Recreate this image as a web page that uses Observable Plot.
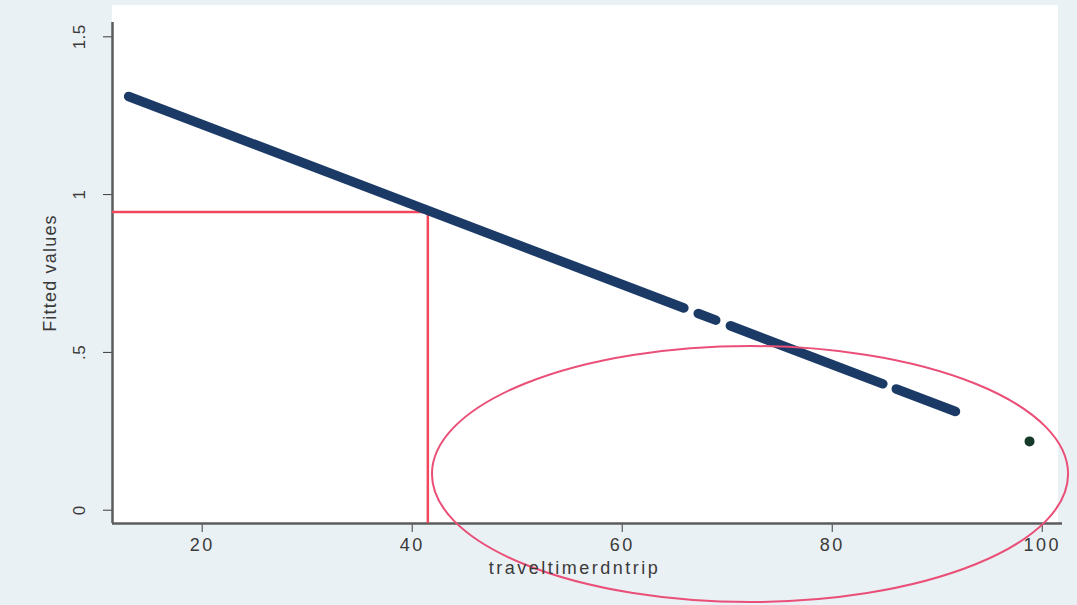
<!DOCTYPE html>
<html><head><meta charset="utf-8">
<script src="https://cdn.jsdelivr.net/npm/d3@7"></script>
<script src="https://cdn.jsdelivr.net/npm/@observablehq/plot@0.6"></script>
<style>
html,body{margin:0;padding:0;background:#eaf1f4;}
#chart svg text{font-size:18px;font-family:"Liberation Sans",Arial,sans-serif;fill:#3a3a3a;}
</style>
</head><body><div id="chart"></div>
<script>
// Fitted values drawn as runs of markers (start/end of each run)
const segStartX = [13.0, 67.24, 70.30, 86.10];
const segEndX   = [65.87, 68.91, 84.82, 91.74];
const segStartY = [1.311, 0.6233, 0.5845, 0.3842];
const segEndY   = [0.6407, 0.6021, 0.4004, 0.3127];
// isolated fitted value
const outlierX = [98.79];
const outlierY = [0.218];
// red reference lines
const refX = [41.49];
const refY = [0.945];
// red ellipse annotation (centre and radii in data units)
const ellipseCenter = [72.22, 0.1131];
const ellipseRadii = [30.29, 0.4056];
// axes
const xTicks = [20, 40, 60, 80, 100];
const xTickLabels = ["20", "40", "60", "80", "100"];
const yTicks = [0, 0.5, 1, 1.5];
const yTickLabels = ["0", ".5", "1", "1.5"];
const xLabel = "traveltimerdntrip";
const yLabel = "Fitted values";
const xDomain = [11.46, 101.93];
const yDomain = [-0.0421, 1.5453];

const segs = segStartX.map((x, i) => ({x1: x, y1: segStartY[i], x2: segEndX[i], y2: segEndY[i]}));
const outliers = outlierX.map((x, i) => ({x, y: outlierY[i]}));

function background(index, scales, values, dims) {
  return d3.create("svg:rect")
    .attr("x", dims.marginLeft)
    .attr("y", 5)
    .attr("width", dims.width - dims.marginLeft - dims.marginRight - 4)
    .attr("height", dims.height - dims.marginBottom - 5)
    .attr("fill", "white").node();
}
function ellipse(index, scales) {
  const cx = scales.x(ellipseCenter[0]), cy = scales.y(ellipseCenter[1]);
  const rx = scales.x(ellipseCenter[0] + ellipseRadii[0]) - cx;
  const ry = cy - scales.y(ellipseCenter[1] + ellipseRadii[1]);
  return d3.create("svg:ellipse")
    .attr("cx", cx).attr("cy", cy).attr("rx", rx).attr("ry", ry)
    .attr("fill", "none").attr("stroke", "#ea4f78").attr("stroke-width", 2).node();
}

const plot = Plot.plot({
  width: 1077, height: 605,
  marginLeft: 112, marginRight: 15, marginTop: 22, marginBottom: 82,
  style: {background: "transparent", color: "#3a3a3a", fontSize: "18px", fontFamily: "Liberation Sans, Arial, sans-serif"},
  x: {domain: xDomain, ticks: xTicks, tickSize: 9, tickPadding: 6,
      tickFormat: d => xTickLabels[xTicks.indexOf(d)], label: null},
  y: {domain: yDomain, ticks: yTicks, tickSize: 9, tickFormat: () => "", label: null},
  marks: [
    background,
    Plot.ruleX([xDomain[0]], {stroke: "#5c5c5c", strokeWidth: 2.5}),
    Plot.ruleY([yDomain[0]], {stroke: "#5c5c5c", strokeWidth: 2.5}),
    Plot.ruleY(refY, {x1: xDomain[0], x2: refX[0], stroke: "#f2475c", strokeWidth: 2.5}),
    Plot.ruleX(refX, {y1: yDomain[0], y2: refY[0], stroke: "#f2475c", strokeWidth: 2.5}),
    Plot.link(segs, {x1: "x1", y1: "y1", x2: "x2", y2: "y2", stroke: "#1b3a66", strokeWidth: 9.5, strokeLinecap: "round"}),
    Plot.dot(outliers, {x: "x", y: "y", r: 5, fill: "#163a2a"}),
    ellipse,
    Plot.text(yTicks, {frameAnchor: "left", y: d => d, text: (d, i) => yTickLabels[i], rotate: -90, dx: -33, textAnchor: "middle", lineAnchor: "middle"}),
    Plot.text([yLabel], {frameAnchor: "left", dx: -62, rotate: -90, textAnchor: "middle", lineAnchor: "middle"}),
    Plot.text([xLabel], {frameAnchor: "bottom", dx: -13, dy: 45, textAnchor: "middle", lineAnchor: "middle"})
  ]
});
d3.select(plot).selectAll("text").each(function() {
  const t = this.getAttribute("transform") || "";
  const s = d3.select(this);
  if (t.includes("rotate")) {
    if (this.textContent === yLabel) s.style("font-size", "18px").style("letter-spacing", "1.2px");
    else s.style("font-size", "17px").style("letter-spacing", "0.5px");
  } else {
    s.style("letter-spacing", "2.5px");
  }
});
document.getElementById("chart").appendChild(plot);
</script>
</body></html>
